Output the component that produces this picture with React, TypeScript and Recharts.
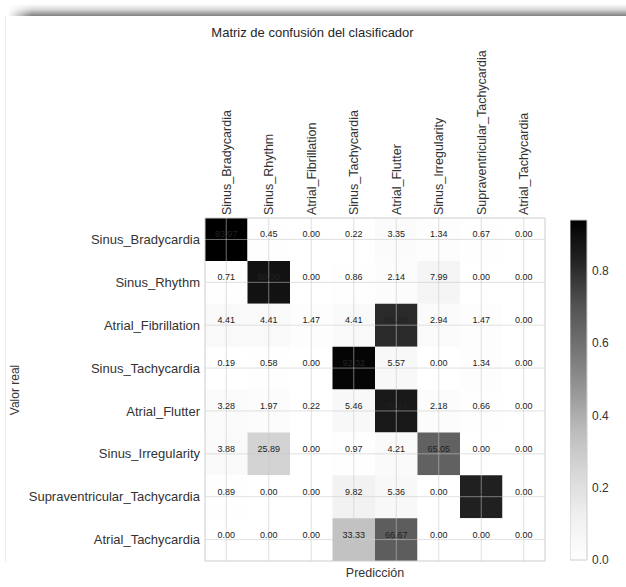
import React from 'react';
import {
  BarChart,
  Bar,
  ComposedChart,
  XAxis,
  YAxis,
  ReferenceArea,
  ReferenceLine,
  Scatter,
} from 'recharts';

// clases (filas = valor real, columnas = prediccion)
const classes = [
  'Sinus_Bradycardia',
  'Sinus_Rhythm',
  'Atrial_Fibrillation',
  'Sinus_Tachycardia',
  'Atrial_Flutter',
  'Sinus_Irregularity',
  'Supraventricular_Tachycardia',
  'Atrial_Tachycardia',
];

// porcentajes por fila
const rowSinusBradycardia = [93.97, 0.45, 0.0, 0.22, 3.35, 1.34, 0.67, 0.0];
const rowSinusRhythm = [0.71, 88.3, 0.0, 0.86, 2.14, 7.99, 0.0, 0.0];
const rowAtrialFibrillation = [4.41, 4.41, 1.47, 4.41, 80.88, 2.94, 1.47, 0.0];
const rowSinusTachycardia = [0.19, 0.58, 0.0, 92.32, 5.57, 0.0, 1.34, 0.0];
const rowAtrialFlutter = [3.28, 1.97, 0.22, 5.46, 86.24, 2.18, 0.66, 0.0];
const rowSinusIrregularity = [3.88, 25.89, 0.0, 0.97, 4.21, 65.05, 0.0, 0.0];
const rowSupraventricular = [0.89, 0.0, 0.0, 9.82, 5.36, 0.0, 83.93, 0.0];
const rowAtrialTachycardia = [0.0, 0.0, 0.0, 33.33, 66.67, 0.0, 0.0, 0.0];

const matrix = [
  rowSinusBradycardia,
  rowSinusRhythm,
  rowAtrialFibrillation,
  rowSinusTachycardia,
  rowAtrialFlutter,
  rowSinusIrregularity,
  rowSupraventricular,
  rowAtrialTachycardia,
];

const cbTicks = [0, 0.2, 0.4, 0.6, 0.8];

// matplotlib "Greys"
const GREYS = [1.0, 0.941, 0.851, 0.741, 0.588, 0.451, 0.322, 0.145, 0.0];
const VMAX = Math.max(...matrix.flat()) / 100;
const cbData = [{ name: 'cb', top: VMAX }];

const greyColor = (t: number) => {
  const s = Math.min(Math.max(t, 0), 1) * (GREYS.length - 1);
  const i = Math.min(Math.floor(s), GREYS.length - 2);
  const f = s - i;
  const g = Math.round((GREYS[i] + (GREYS[i + 1] - GREYS[i]) * f) * 255);
  return `rgb(${g},${g},${g})`;
};

const centers = classes.map((_, i) => i + 0.5);

const cells = matrix.flatMap((row, r) =>
  row.map((v, c) => ({ x: c + 0.5, y: r + 0.5, v, r, c }))
);

const FONT = '"Liberation Sans", Arial, sans-serif';
const TXT = '#333';

const TopTick = ({ x, y, payload }: any) => (
  <text
    x={x}
    y={y}
    transform={`rotate(-90, ${x}, ${y})`}
    textAnchor="start"
    dy="0.35em"
    fontSize={12.5}
    fontFamily={FONT}
    fill={TXT}
  >
    {classes[Math.floor(payload.value)]}
  </text>
);

const CellText = ({ cx, cy, payload }: any) => (
  <text
    x={cx}
    y={cy - 2}
    textAnchor="middle"
    fontSize={9}
    fontFamily={FONT}
    fill="#222"
  >
    {payload.v.toFixed(2)}
  </text>
);

export default function App() {
  return (
    <div
      style={{
        position: 'absolute',
        left: 0,
        top: 0,
        width: 626,
        height: 587,
        background: '#fff',
        overflow: 'hidden',
      }}
    >
      {/* sombra de la celda del notebook */}
      <div
        style={{
          position: 'absolute',
          left: 8,
          top: 4,
          width: 618,
          height: 12,
          background:
            'linear-gradient(to bottom, rgba(0,0,0,0) 0%, rgba(0,0,0,0.15) 45%, rgba(0,0,0,0.5) 100%)',
          WebkitMaskImage:
            'linear-gradient(to right, transparent 0px, black 24px)',
          maskImage: 'linear-gradient(to right, transparent 0px, black 24px)',
        }}
      />
      <div
        style={{
          position: 'absolute',
          left: 5,
          top: 17,
          width: 1,
          height: 545,
          background: '#ececec',
        }}
      />
      <svg width={0} height={0} style={{ position: 'absolute' }}>
        <defs>
          <linearGradient id="cbGrad" x1="0" y1="1" x2="0" y2="0">
            {GREYS.map((g, i) => (
              <stop
                key={i}
                offset={i / (GREYS.length - 1)}
                stopColor={greyColor(i / (GREYS.length - 1))}
              />
            ))}
          </linearGradient>
        </defs>
      </svg>

      <div style={{ position: 'absolute', left: 0, top: 0 }}>
        <ComposedChart
          width={626}
          height={587}
          margin={{ top: 8, right: 81, bottom: 26, left: 0 }}
        >
          <XAxis
            xAxisId={0}
            type="number"
            dataKey="x"
            domain={[0, 8]}
            orientation="top"
            ticks={centers}
            height={210}
            tickSize={0}
            tickMargin={3}
            axisLine={false}
            tickLine={false}
            tick={<TopTick />}
            interval={0}
          />
          <YAxis
            yAxisId={0}
            type="number"
            dataKey="y"
            domain={[0, 8]}
            reversed
            ticks={centers}
            width={205}
            tickSize={0}
            tickMargin={5}
            axisLine={false}
            tickLine={false}
            interval={0}
            tickFormatter={(v: number) => classes[Math.floor(v)]}
            tick={{ fontSize: 13, fontFamily: FONT, fill: TXT }}
          />
          {cells.map((d) => (
            <ReferenceArea
              key={`c${d.r}-${d.c}`}
              x1={d.c}
              x2={d.c + 1}
              y1={d.r}
              y2={d.r + 1}
              fill={greyColor(d.v / 100 / VMAX)}
              fillOpacity={1}
              stroke="none"
            />
          ))}
          {centers.map((c) => (
            <ReferenceLine
              key={`vx${c}`}
              x={c}
              stroke="#c8c8c8"
              strokeOpacity={0.55}
              strokeWidth={1}
            />
          ))}
          {centers.map((c) => (
            <ReferenceLine
              key={`hy${c}`}
              y={c}
              stroke="#c8c8c8"
              strokeOpacity={0.55}
              strokeWidth={1}
            />
          ))}
          <ReferenceArea
            x1={0}
            x2={8}
            y1={0}
            y2={8}
            fill="none"
            stroke="#cccccc"
            strokeWidth={1}
          />
          <Scatter
            data={cells}
            dataKey="y"
            isAnimationActive={false}
            shape={<CellText />}
          />
        </ComposedChart>
      </div>

      {/* barra de color */}
      <div style={{ position: 'absolute', left: 570, top: 0 }}>
        <BarChart
          width={56}
          height={587}
          data={cbData}
          margin={{ top: 220, right: 0, bottom: 27, left: 0 }}
          barCategoryGap={0}
        >
          <XAxis dataKey="name" hide />
          <YAxis
            type="number"
            domain={[0, VMAX]}
            orientation="right"
            ticks={cbTicks}
            width={39}
            tickSize={0}
            tickMargin={5}
            axisLine={false}
            tickLine={false}
            tickFormatter={(v: number) => v.toFixed(1)}
            tick={{ fontSize: 12, fontFamily: FONT, fill: TXT }}
          />
          <Bar
            dataKey="top"
            fill="url(#cbGrad)"
            stroke="#cccccc"
            strokeWidth={1}
            isAnimationActive={false}
          />
        </BarChart>
      </div>

      <svg
        width={626}
        height={587}
        style={{ position: 'absolute', left: 0, top: 0, pointerEvents: 'none' }}
      >
        <text
          x={312.5}
          y={37}
          textAnchor="middle"
          fontSize={13}
          fontFamily={FONT}
          fill="#262626"
        >
          Matriz de confusión del clasificador
        </text>
        <text
          x={375}
          y={577}
          textAnchor="middle"
          fontSize={12.5}
          fontFamily={FONT}
          fill={TXT}
        >
          Predicción
        </text>
        <text
          x={19}
          y={390}
          transform="rotate(-90, 19, 390)"
          textAnchor="middle"
          fontSize={12}
          fontFamily={FONT}
          fill={TXT}
        >
          Valor real
        </text>
      </svg>
    </div>
  );
}
